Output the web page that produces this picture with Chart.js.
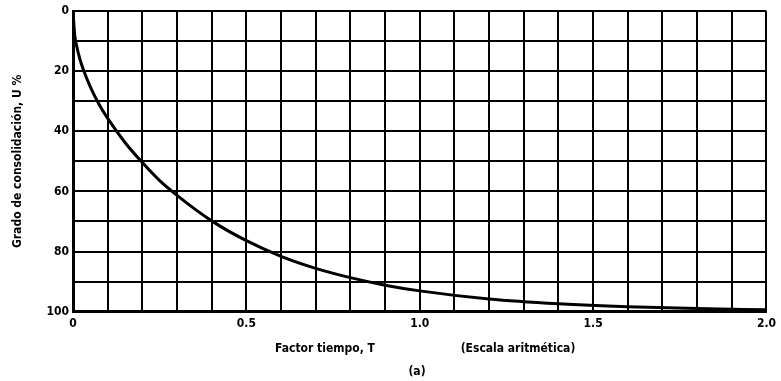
<!DOCTYPE html>
<html>
<head>
<meta charset="utf-8">
<script src="https://cdn.jsdelivr.net/npm/chart.js@4.4.0/dist/chart.umd.min.js"></script>
<style>
  html, body { margin: 0; padding: 0; background: #fff; }
  #wrap { width: 781px; height: 381px; position: relative; }
</style>
</head>
<body>
<div id="wrap"><canvas id="chart" width="781" height="381"></canvas></div>
<script>
// Factor tiempo T vs grado de consolidación U (%)
const timeFactor = [0, 0.005, 0.01, 0.02, 0.03, 0.05, 0.075, 0.1, 0.15, 0.2, 0.25, 0.3, 0.4, 0.5, 0.6, 0.7, 0.8, 0.9, 1.0, 1.2, 1.4, 1.6, 1.8, 2.0];
const consolidation = [0, 8, 11.3, 16, 19.5, 25.2, 31, 35.7, 43.7, 50.4, 56.4, 61.3, 69.8, 76.4, 81.6, 85.6, 88.7, 91.2, 93.1, 95.8, 97.4, 98.4, 99, 99.4];

const xTickLabels = { 0: '0', 5: '0.5', 10: '1.0', 15: '1.5', 20: '2.0' };
const yTickLabels = ['0', '20', '40', '60', '80', '100'];

const fontFamily = '"Liberation Sans Narrow", "Arial Narrow", "DejaVu Sans Condensed", sans-serif';

// textos bajo el eje x
const captions = {
  id: 'captions',
  afterDraw(chart) {
    const ctx = chart.ctx;
    ctx.save();
    ctx.fillStyle = '#000';
    ctx.font = 'bold 12px ' + fontFamily;
    ctx.textAlign = 'center';
    ctx.textBaseline = 'middle';
    ctx.fillText('Factor tiempo, T', 325, 349);
    ctx.fillText('(Escala aritmética)', 518, 349);
    ctx.fillText('(a)', 417, 372);
    ctx.restore();
  }
};

new Chart(document.getElementById('chart'), {
  type: 'line',
  data: {
    datasets: [{
      data: timeFactor.map((t, i) => ({ x: t, y: consolidation[i] })),
      borderColor: '#000',
      borderWidth: 3,
      pointRadius: 0,
      cubicInterpolationMode: 'monotone',
      fill: false
    }]
  },
  options: {
    responsive: false,
    animation: false,
    devicePixelRatio: 1,
    layout: { padding: { left: 11, right: 14, top: 9, bottom: 45 } },
    plugins: { legend: { display: false }, tooltip: { enabled: false } },
    scales: {
      x: {
        type: 'linear',
        min: 0,
        max: 2,
        ticks: {
          stepSize: 0.1,
          autoSkip: false,
          maxRotation: 0,
          color: '#000',
          padding: 5,
          font: { family: fontFamily, size: 12, weight: 'bold' },
          callback: (v) => {
            const k = Math.round(v * 10);
            return xTickLabels[k] !== undefined ? xTickLabels[k] : '';
          }
        },
        grid: { color: '#000', lineWidth: 2, drawTicks: false },
        border: { color: '#000', width: 3 }
      },
      y: {
        reverse: true,
        min: 0,
        max: 100,
        afterFit: (scale) => { scale.width = 62; },
        ticks: {
          stepSize: 10,
          autoSkip: false,
          color: '#000',
          padding: 4,
          font: { family: fontFamily, size: 12, weight: 'bold' },
          callback: (v) => (v % 20 === 0 ? yTickLabels[v / 20] : '')
        },
        title: {
          display: true,
          text: 'Grado de consolidación, U %',
          color: '#000',
          font: { family: fontFamily, size: 12, weight: 'bold' },
          padding: { top: 0, bottom: 12 }
        },
        grid: { color: '#000', lineWidth: 2, drawTicks: false },
        border: { color: '#000', width: 3 }
      }
    }
  },
  plugins: [captions]
});
</script>
</body>
</html>
